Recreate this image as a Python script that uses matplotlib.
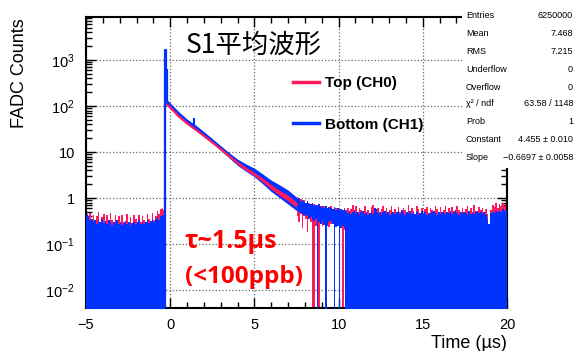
import numpy as np
import matplotlib.pyplot as plt
from matplotlib.patches import Rectangle

# -----------------------------
# Data
# -----------------------------
DT = 0.1          # width of the noisy bins, us
FLOOR = 1e-3      # negative bins are drawn down to here (below the frame)

# pre-trigger baseline, bins from -5.0 us to -0.3 us (top of each bin)
pre_t0 = -5.0
pre_ch0 = [0.45, 0.35, 0.47, 0.30, 0.44, 0.28, 0.40, 0.49, 0.30, 0.38,
           0.45, 0.27, 0.42, 0.30, 0.47, 0.33, 0.26, 0.44, 0.29, 0.40,
           0.25, 0.43, 0.31, 0.27, 0.45, 0.28, 0.38, 0.24, 0.42, 0.35,
           0.28, 0.44, 0.30, 0.40, 0.33, 0.26, 0.45, 0.35, 0.30, 0.47,
           0.34, 0.40, 0.52, 0.45, 0.58, 0.62, 0.55]
pre_ch1 = [0.42, 0.40, 0.33, 0.36, 0.30, 0.34, 0.28, 0.33, 0.31, 0.35,
           0.29, 0.32, 0.27, 0.34, 0.30, 0.26, 0.31, 0.29, 0.33, 0.28,
           0.30, 0.26, 0.29, 0.32, 0.27, 0.30, 0.25, 0.29, 0.31, 0.27,
           0.30, 0.33, 0.28, 0.31, 0.27, 0.30, 0.34, 0.29, 0.32, 0.36,
           0.31, 0.35, 0.38, 0.34, 0.40, 0.44, 0.42]

# prompt spike (fine bins)
spike_t = [-0.30, -0.30, -0.25, -0.20]
spike_ch0 = [FLOOR, 420, 260, 110]
spike_ch1 = [FLOOR, 1650, 600, 130]

# exponential tail
decay_t = [-0.2, 0.0, 0.5, 1.0, 1.5, 2.0, 2.5, 3.0, 3.5, 4.0,
           4.5, 5.0, 5.5, 6.0, 6.5, 7.0, 7.5]
decay_ch0 = [108, 93, 60, 42, 31, 22.5, 16.2, 11.6, 8.2, 5.8,
             4.3, 3.3, 2.45, 1.75, 1.3, 1.0, 0.72]
decay_ch1 = [125, 104, 68, 47, 35, 25, 17.5, 12.2, 8.5, 6.0,
             4.6, 3.6, 2.6, 1.85, 1.4, 1.05, 0.75]
decay_spread = [1.04, 1.05, 1.06, 1.07, 1.08, 1.09, 1.10, 1.12, 1.14, 1.17,
                1.20, 1.24, 1.28, 1.33, 1.38, 1.42, 1.40]

# single glitch bin in CH1
glitch_t = 1.4
glitch_ch1 = (36, 55)

# tail running into the noise, bins from 7.5 us to 10.5 us (0 = negative bin)
mid_t0 = 7.5
mid_hi_ch0 = [1.05, 0.90, 0.95, 0.85, 0.90, 0.78, 0.82, 0.80, 0.70, 0.76,
              0.74, 0.66, 0.70, 0.62, 0.68, 0.64, 0.66, 0.58, 0.62, 0.60,
              0.66, 0.56, 0.58, 0.60, 0.55, 0.58, 0.52, 0.56, 0.60, 0.54]
mid_lo_ch0 = [0.40, 0.30, 0.45, 0.22, 0.40, 0.35, 0.18, 0.36, 0.30, 0.0,
              0.0, 0.25, 0.30, 0.0, 0.28, 0.25, 0.30, 0.22, 0.27, 0.24,
              0.28, 0.30, 0.26, 0.25, 0.28, 0.22, 0.24, 0.0, 0.2, 0.0]
mid_hi_ch1 = [0.95, 1.00, 0.88, 0.92, 0.84, 0.80, 0.86, 0.76, 0.74, 0.80,
              0.70, 0.72, 0.66, 0.74, 0.64, 0.68, 0.62, 0.66, 0.60, 0.64,
              0.62, 0.58, 0.63, 0.56, 0.60, 0.55, 0.58, 0.54, 0.57, 0.52]
mid_lo_ch1 = [0.55, 0.50, 0.48, 0.45, 0.44, 0.40, 0.42, 0.36, 0.38, 0.34,
              0.32, 0.35, 0.0, 0.30, 0.28, 0.32, 0.26, 0.0, 0.25, 0.30,
              0.32, 0.28, 0.0, 0.24, 0.25, 0.0, 0.22, 0.25, 0.22, 0.0]

# baseline after the pulse, bins from 10.5 us to 20 us
post_t0 = 10.5
post_ch0 = [0.62, 0.45, 0.58, 0.70, 0.42, 0.66, 0.48, 0.60, 0.55, 0.44,
            0.68, 0.47, 0.56, 0.40, 0.64, 0.72, 0.50, 0.45, 0.62, 0.43,
            0.58, 0.66, 0.46, 0.61, 0.44, 0.55, 0.69, 0.48, 0.57, 0.42,
            0.64, 0.50, 0.45, 0.62, 0.56, 0.47, 0.70, 0.46, 0.60, 0.52,
            0.43, 0.66, 0.57, 0.46, 0.62, 0.48, 0.58, 0.64, 0.44, 0.60,
            0.55, 0.47, 0.68, 0.58, 0.45, 0.63, 0.49, 0.56, 0.66, 0.47,
            0.60, 0.45, 0.64, 0.52, 0.47, 0.69, 0.56, 0.44, 0.62, 0.50,
            0.57, 0.66, 0.46, 0.60, 0.48, 0.70, 0.52, 0.45, 0.63, 0.55,
            0.62, 0.48, 0.58, 0.45, 0.22, 0.55, 0.72, 0.64, 0.78, 0.60,
            0.74, 0.68, 0.80, 0.66, 0.76]
post_ch1 = [0.48, 0.52, 0.45, 0.50, 0.55, 0.47, 0.51, 0.44, 0.49, 0.53,
            0.46, 0.50, 0.43, 0.48, 0.52, 0.45, 0.60, 0.58, 0.47, 0.50,
            0.44, 0.49, 0.53, 0.46, 0.50, 0.42, 0.47, 0.51, 0.45, 0.49,
            0.52, 0.46, 0.55, 0.48, 0.43, 0.50, 0.47, 0.53, 0.45, 0.49,
            0.46, 0.51, 0.44, 0.48, 0.52, 0.46, 0.50, 0.43, 0.48, 0.45,
            0.49, 0.53, 0.47, 0.42, 0.50, 0.46, 0.51, 0.48, 0.44, 0.50,
            0.47, 0.52, 0.45, 0.49, 0.54, 0.47, 0.43, 0.50, 0.46, 0.51,
            0.48, 0.44, 0.52, 0.46, 0.50, 0.45, 0.49, 0.53, 0.47, 0.50,
            0.45, 0.49, 0.43, 0.36, 0.28, 0.47, 0.51, 0.48, 0.53, 0.50,
            0.55, 0.50, 0.57, 0.52, 0.55]

# axis ticks
y_ticks = [1e-2, 1e-1, 1, 10, 1e2, 1e3]
y_tick_labels = [r'$10^{-2}$', r'$10^{-1}$', '1', '10', r'$10^{2}$', r'$10^{3}$']
x_ticks = [-5, 0, 5, 10, 15, 20]

# fit / stats box
stats = [("Entries", "6250000"), ("Mean", "7.468"), ("RMS", "7.215"),
         ("Underflow", "0"), ("Overflow", "0"), ("χ² / ndf", "63.58 / 1148"),
         ("Prob", "1"), ("Constant", "4.455 ± 0.010"),
         ("Slope", "−0.6697 ± 0.0058")]

RED = '#ff1a5e'
BLUE = '#0033ff'

# -----------------------------
# Style
# -----------------------------
plt.rcParams['font.family'] = ['Liberation Sans', 'DejaVu Sans']
plt.rcParams['mathtext.fontset'] = 'custom'
plt.rcParams['mathtext.rm'] = 'Liberation Sans'
plt.rcParams['mathtext.it'] = 'Liberation Sans:italic'


def bins(t0, vals):
    edges = t0 + DT * np.arange(len(vals) + 1)
    return edges, np.append(vals, vals[-1])


def noise(ax, t0, top, lo, color, z):
    edges, hi = bins(t0, top)
    if lo is None:
        low = np.full_like(hi, FLOOR)
    else:
        _, low = bins(t0, lo)
        low = np.where(low <= 0, FLOOR, low)
    ax.fill_between(edges, low, hi, step='post', color=color, lw=0, zorder=z)


# -----------------------------
# Plot
# -----------------------------
fig = plt.figure(figsize=(5.75, 3.51), dpi=100)
ax = fig.add_axes([86 / 575, 1 - 308 / 351, 421 / 575, 291 / 351])
ax.set_yscale('log')

# noisy parts: red first, blue over it
noise(ax, pre_t0, pre_ch0, None, RED, 2)
noise(ax, mid_t0, mid_hi_ch0, mid_lo_ch0, RED, 2)
noise(ax, post_t0, post_ch0, None, RED, 2)
noise(ax, pre_t0, pre_ch1, None, BLUE, 3)
noise(ax, mid_t0, mid_hi_ch1, mid_lo_ch1, BLUE, 3)
noise(ax, post_t0, post_ch1, None, BLUE, 3)

# spike
ax.plot(spike_t, spike_ch0, drawstyle='steps-post', color=RED, lw=1.5, zorder=4)
ax.plot(spike_t, spike_ch1, drawstyle='steps-post', color=BLUE, lw=1.6, zorder=6)

# decay band
c1 = np.array(decay_ch1)
c0 = np.array(decay_ch0)
s = np.array(decay_spread)
ax.fill_between(decay_t, c1 / s, c1 * s, color=BLUE, lw=0, zorder=4)
ax.plot(decay_t, c1, color=BLUE, lw=2.2, zorder=4)
ax.fill_between(decay_t, c0 / s ** 0.4, c0 * s ** 0.4, color=RED, lw=0, zorder=5)
ax.plot(decay_t, c0, color=RED, lw=1.6, zorder=5)
ax.vlines(glitch_t, glitch_ch1[0], glitch_ch1[1], color=BLUE, lw=1.5, zorder=6)

# legend handles
ax.plot([], [], color=RED, lw=2.5, label='Top (CH0)')
ax.plot([], [], color=BLUE, lw=2.5, label='Bottom (CH1)')
ax.legend(loc='upper left', bbox_to_anchor=(293 / 575, 1 - 76 / 351),
          bbox_transform=fig.transFigure, frameon=False, borderpad=0,
          borderaxespad=0, handlelength=1.7, handletextpad=0.4,
          labelspacing=1.8, prop={'weight': 'bold', 'size': 11})

# axes
ax.set_xlim(-5, 20)
ax.set_ylim(0.0041, 8600)
ax.set_xticks(x_ticks)
ax.set_xticks(np.arange(-5, 21, 1), minor=True)
ax.set_yticks(y_ticks)
ax.set_yticklabels(y_tick_labels)
ax.tick_params(which='both', direction='in', top=True, right=True,
               labelsize=10.5, width=1)
ax.tick_params(which='major', length=7)
ax.tick_params(which='minor', length=4)
ax.tick_params(axis='x', pad=7)
ax.tick_params(axis='y', pad=8)
for sp in ax.spines.values():
    sp.set_linewidth(1.5)
ax.set_axisbelow(True)
ax.grid(True, which='major', color='#666666', linestyle=':', lw=0.9)

ax.set_xlabel('Time (µs)', fontsize=13, loc='right', labelpad=2)
fig.text(20 / 575, 1 - 73 / 351, 'FADC Counts', rotation=90, fontsize=13,
         ha='center', va='center')

# annotations
fig.text(186 / 575, 1 - 45 / 351, 'S1平均波形', fontsize=19,
         family=['Noto Sans CJK SC', 'DejaVu Sans'], va='center', ha='left')
fig.text(185 / 575, 1 - 242 / 351, 'τ~1.5µs', fontsize=18, color='#ff0000',
         weight='bold', family=['Open Sans', 'DejaVu Sans'], va='center')
fig.text(185 / 575, 1 - 277 / 351, '(<100ppb)', fontsize=17.5, color='#ff0000',
         weight='bold', family=['Open Sans', 'DejaVu Sans'], va='center')

# stats box
fig.patches.append(Rectangle((462 / 575, 1 - 168 / 351), 113 / 575, 168 / 351,
                             transform=fig.transFigure, facecolor='white',
                             edgecolor='none', zorder=5))
row_y = [15.5, 33, 51, 69, 87, 104, 122, 139, 157]
for (name, val), yy in zip(stats, row_y):
    fig.text(466 / 575, 1 - yy / 351, name, fontsize=6.5, va='center',
             ha='left', zorder=6)
    fig.text(573 / 575, 1 - yy / 351, val, fontsize=6.5, va='center',
             ha='right', zorder=6)

fig.savefig('out.png', dpi=100)
